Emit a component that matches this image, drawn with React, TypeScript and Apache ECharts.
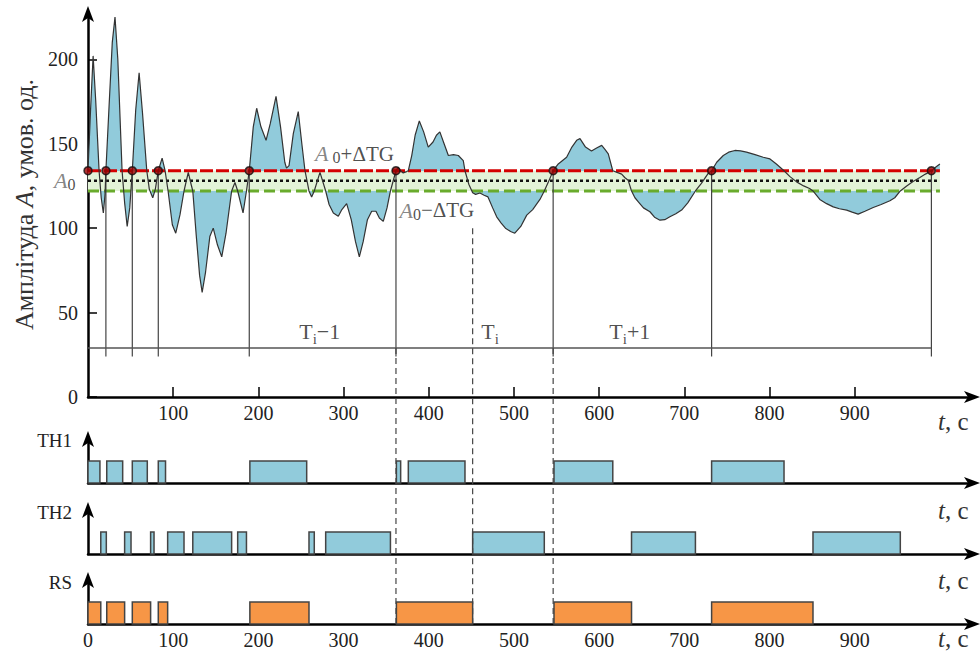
import React, { useEffect, useRef } from 'react';
import * as echarts from 'echarts';

const curveT = [0,3,6,9,13,15.5,18,20,21,25,28.5,31.7,35,40,43,46,49,52,56,60,64,69,72,76,79,82.5,87,90.5,94,99,103,108,112.7,117.7,121,123,127,131,134,138,143,147,152,157,162,168.6,172.5,175.7,182,186,189.3,194,198,203,209,214,220.7,226,231,233,236,241,246.8,251,254.7,259.4,262.5,265.6,272.3,279,283,288,293.8,298,303.6,309,314,318.5,323,328,333,338,342,346.6,351,355,361.5,364,367,370,374,376,380,384,388.9,394,399.4,405,409,413,418,423,429,434.7,440.5,442.5,447,451.5,455,460,465,469.5,475,479.7,485,490,496,501,508,515,522,530.5,535.6,541,546,552,561.8,568,573.6,577.5,584,591,597,603,607,610.7,616,621,626.4,630,634,638,642,646,652,659.6,665,671.4,677,683,690,696.8,704,713,720,728,732,738,745.7,752,759.4,766,773,783,792.6,800.5,808,817,824,831.8,840,847,851,855,859,867,874.8,882,890.5,897,904,912,921.7,931,941.3,947,953.5,961,968,976.5,983,990,996,1000];
const curveA = [134,170,202,176,134,118,109,120,134,175,210,225,200,134,115,101,112,134,170,192,168,134,123,118,123,134,141.5,134,122,102,97,108,122,133,126,122,96,72,62,74,95,100,90,83,97,122,127,122,109,122,134,160,171,160,152,162,178,160,139,135.5,137,156,169,150,134,122,118.5,122,133,122,114,109,107,111,114.5,105,92,83,92,105,110,110,106,104,112,122,134,136,134,132.7,133.5,134,143,155,163.5,157,148,151,155,157,150,143,143.5,143,140,134,126,121,120,120.8,119.5,118.5,112,106.7,103,100,98,97,101,107.7,111,117,122,128,134,138,142,148,152,153,148,145.7,147.5,149,146.5,144,134,133,132,130,128.4,122,118,115.6,112,109.7,106.5,104.7,105,106.7,108.5,110.7,115,122,126.5,132.4,134,139,143,145,146,145.8,145,143.5,142,141,138,134,130.5,127.4,125,123.5,122,119.5,117,114.5,112.6,111.5,110.7,109.5,108.3,110,112.2,114,116.2,118,122,125,127.5,130,132,134,136.5,138];

const A0 = 128;
const DTG = 6;
const divisionT = [0, 21, 52, 82.5, 189.3, 361.5, 546, 732, 990];
const dashedFromArrowT = [361.5, 546];
const dashedMidT = [451.5];
const th1Pulses = [[0,14],[22,40.7],[52,69.6],[82.5,91],[190,256.7],[362,367],[376,442.5],[547,616],[732,817]];
const th2Pulses = [[15,21.5],[43,50.5],[73.5,77.5],[93.5,112.7],[123,168.6],[175.7,186],[259.4,265.6],[279,355],[451.5,535.6],[638,713],[851,953.5]];
const rsPulses = [[0,15],[22,43],[52,73.5],[82.5,93.5],[190,259.4],[362,451.5],[547,638],[732,851]];
const xTicksMain = [100,200,300,400,500,600,700,800,900];
const xTicksRS = [0,100,200,300,400,500,600,700,800,900];
const yTicks = [0,50,100,150,200];
const periodLabels = [
  { t: 272, text: '{t|T}{s|i}{t|−1}' },
  { t: 472, text: '{t|T}{s|i}' },
  { t: 636, text: '{t|T}{s|i}{t|+1}' },
];

const FF = '"Liberation Serif", "DejaVu Serif", serif';
const BLUE = '#91cbdb';
const ORANGE = '#f79646';
const X_MAX = 1040;
const Y_MAX = 228;
const OV_MIN = -134.4;
const ARROW_A = 29;
const LINE_END_A = 24;

export default function App() {
  const ref = useRef<HTMLDivElement>(null);
  useEffect(() => {
    if (!ref.current) return;
    const chart = echarts.init(ref.current, null, { renderer: 'svg' });
    const upper = A0 + DTG;
    const lower = A0 - DTG;
    const curve = curveT.map((t, i) => [t, curveA[i]]);
    const gl = { left: 88, width: 886 };
    const grids = [
      { ...gl, top: 12, height: 385 },
      { ...gl, top: 437, height: 46 },
      { ...gl, top: 508, height: 46 },
      { ...gl, top: 578, height: 46 },
      { ...gl, top: 12, height: 612 },
    ];
    const axisLineBase = { lineStyle: { color: '#000', width: 2.5 }, symbol: ['none', 'arrow'], symbolSize: [9, 16], symbolOffset: [0, 6] };
    const xAxes: any[] = [0, 1, 2, 3, 4].map((gi) => ({
      type: 'value', gridIndex: gi, min: 0, max: X_MAX,
      show: gi !== 4,
      axisLine: axisLineBase,
      splitLine: { show: false },
      axisTick: gi === 0 ? { show: true, inside: true, length: 10, lineStyle: { color: '#000', width: 1.5 }, customValues: xTicksMain } : { show: false },
      axisLabel: gi === 0 ? { show: true, customValues: xTicksMain, fontFamily: FF, fontSize: 20, color: '#222', margin: 6 }
        : gi === 3 ? { show: true, customValues: xTicksRS, fontFamily: FF, fontSize: 20, color: '#222', margin: 6 }
        : { show: false },
    }));
    const yAxes: any[] = [
      {
        type: 'value', gridIndex: 0, min: 0, max: Y_MAX,
        axisLine: { ...axisLineBase, symbolOffset: [0, 6] },
        splitLine: { show: false },
        axisTick: { show: true, inside: true, length: 9, lineStyle: { color: '#000', width: 1.5 }, customValues: yTicks },
        axisLabel: { customValues: yTicks, fontFamily: FF, fontSize: 20, color: '#222', margin: 10 },
        name: '{n|Амплітуда }{i|A}{n|, умов. од.}',
        nameLocation: 'middle', nameRotate: 90, nameGap: 50,
        nameTextStyle: {
          rich: {
            n: { fontFamily: FF, fontSize: 26, color: '#333' },
            i: { fontFamily: FF, fontSize: 26, fontStyle: 'italic', color: '#333' },
          },
        },
      },
      ...[1, 2, 3].map((gi) => ({
        type: 'value', gridIndex: gi, min: 0, max: 2.1,
        axisLine: { ...axisLineBase, symbolSize: [9, 16] },
        splitLine: { show: false }, axisTick: { show: false }, axisLabel: { show: false },
      })),
      { type: 'value', gridIndex: 4, min: OV_MIN, max: Y_MAX, show: false, splitLine: { show: false } },
    ];

    const hLine = (a: number, color: string, width: number, type: any, z: number) => ({
      type: 'line', xAxisIndex: 0, yAxisIndex: 0, data: [[0, a], [1000, a]], symbol: 'none', silent: true, z,
      lineStyle: { color, width, type },
    });
    const vLine = (t: number, a1: number, a2: number, gi: number, type: any) => ({
      type: 'line', xAxisIndex: gi, yAxisIndex: gi, data: [[t, a1], [t, a2]], symbol: 'none', silent: true, z: 4,
      lineStyle: { color: '#444', width: 1.2, type },
    });
    const pulseSeries = (data: number[][], gi: number, color: string) => ({
      type: 'custom', xAxisIndex: gi, yAxisIndex: gi, data, silent: true, z: 3,
      encode: { x: [0, 1] },
      renderItem: (_p: any, api: any) => {
        const p0 = api.coord([api.value(0), 0]);
        const p1 = api.coord([api.value(1), 1]);
        return {
          type: 'rect',
          shape: { x: p0[0], y: p1[1], width: p1[0] - p0[0], height: p0[1] - p1[1] },
          style: { fill: color, stroke: '#444', lineWidth: 1.5 },
        };
      },
    });
    const richT = {
      t: { fontFamily: FF, fontSize: 22, color: '#222', lineHeight: 30 },
      s: { fontFamily: FF, fontSize: 15, color: '#222', lineHeight: 16, verticalAlign: 'bottom' },
    };
    const richA = {
      a: { fontFamily: FF, fontSize: 22, fontStyle: 'italic', color: '#666', lineHeight: 24 },
      s: { fontFamily: FF, fontSize: 16, color: '#222', lineHeight: 16, verticalAlign: 'bottom' },
      n: { fontFamily: FF, fontSize: 21, color: '#222', lineHeight: 24 },
    };

    const series: any[] = [
      {
        type: 'line', xAxisIndex: 0, yAxisIndex: 0, data: [], silent: true, z: 1,
        markArea: { silent: true, itemStyle: { color: '#e3f3d8' }, data: [[{ coord: [0, lower] }, { coord: [1000, upper] }]] },
      },
      {
        type: 'line', xAxisIndex: 0, yAxisIndex: 0, data: curve, symbol: 'none', silent: true, z: 2,
        lineStyle: { width: 0 }, areaStyle: { origin: A0, opacity: 1 },
      },
      hLine(upper, '#d40000', 3, [13, 3], 4),
      hLine(A0, '#111', 2.5, [3, 3], 4),
      hLine(lower, '#69ab2c', 3, [11, 5], 4),
      ...divisionT.filter((t) => t > 0).map((t) => vLine(t, upper, LINE_END_A, 0, 'solid')),
      {
        type: 'line', xAxisIndex: 0, yAxisIndex: 0, data: [[0, ARROW_A], [divisionT[divisionT.length - 1], ARROW_A]],
        symbol: 'none', silent: true, z: 4, lineStyle: { color: '#555', width: 1.5 },
      },
      ...dashedFromArrowT.map((t) => vLine(t, ARROW_A, OV_MIN, 4, [6, 4])),
      ...dashedMidT.map((t) => vLine(t, 100, OV_MIN, 4, [6, 4])),
      {
        type: 'line', xAxisIndex: 0, yAxisIndex: 0, data: curve, symbol: 'none', silent: true, z: 5,
        lineStyle: { color: '#333', width: 1.2 },
      },
      {
        type: 'scatter', xAxisIndex: 0, yAxisIndex: 0, data: divisionT.map((t) => [t, upper]), symbolSize: 8, silent: true, z: 6,
        itemStyle: { color: '#9a0000', borderColor: '#111', borderWidth: 1.5 },
      },
      {
        type: 'scatter', xAxisIndex: 0, yAxisIndex: 0, symbolSize: 1, silent: true, z: 7,
        itemStyle: { color: 'rgba(0,0,0,0)' },
        data: [
          { value: [266, 144], label: { show: true, position: 'right', distance: 0, formatter: '{a|A}{s| 0}{n|+ΔTG}', rich: richA } },
          { value: [365, 110.5], label: { show: true, position: 'right', distance: 0, formatter: '{a|A}{s|0}{n|−ΔTG}', rich: richA } },
          { value: [0, A0], label: { show: true, position: 'left', distance: 12, formatter: '{a|A}{s|0}', rich: richA } },
          ...periodLabels.map((p) => ({ value: [p.t, 38.5], label: { show: true, position: 'inside', formatter: p.text, rich: richT } })),
        ],
      },
      pulseSeries(th1Pulses, 1, BLUE),
      pulseSeries(th2Pulses, 2, BLUE),
      pulseSeries(rsPulses, 3, ORANGE),
    ];

    const tLabel = (y: number) => ({
      type: 'text', left: 938, top: y - 14, silent: true,
      style: {
        text: '{i|t}{n|, c}',
        rich: {
          i: { fontFamily: FF, fontSize: 25, fontStyle: 'italic', fill: '#333' },
          n: { fontFamily: FF, fontSize: 25, fill: '#333' },
        },
      },
    });
    const subLabel = (text: string, y: number) => ({
      type: 'text', right: 980 - 72, top: y - 11, silent: true,
      style: { text, fontFamily: FF, fontSize: 19, fill: '#222' },
    });

    chart.setOption({
      animation: false,
      grid: grids,
      xAxis: xAxes,
      yAxis: yAxes,
      visualMap: [{
        show: false, type: 'piecewise', seriesIndex: 1, dimension: 1,
        pieces: [
          { gt: upper, color: BLUE },
          { gte: lower, lte: upper, color: 'rgba(0,0,0,0)' },
          { lt: lower, color: BLUE },
        ],
      }],
      series,
      graphic: [
        tLabel(423), tLabel(512), tLabel(582), tLabel(640),
        subLabel('TH1', 442), subLabel('TH2', 514), subLabel('RS', 584),
      ],
    });
    return () => chart.dispose();
  }, []);
  return <div ref={ref} style={{ width: 980, height: 658, position: 'absolute', left: 0, top: 0 }} />;
}
